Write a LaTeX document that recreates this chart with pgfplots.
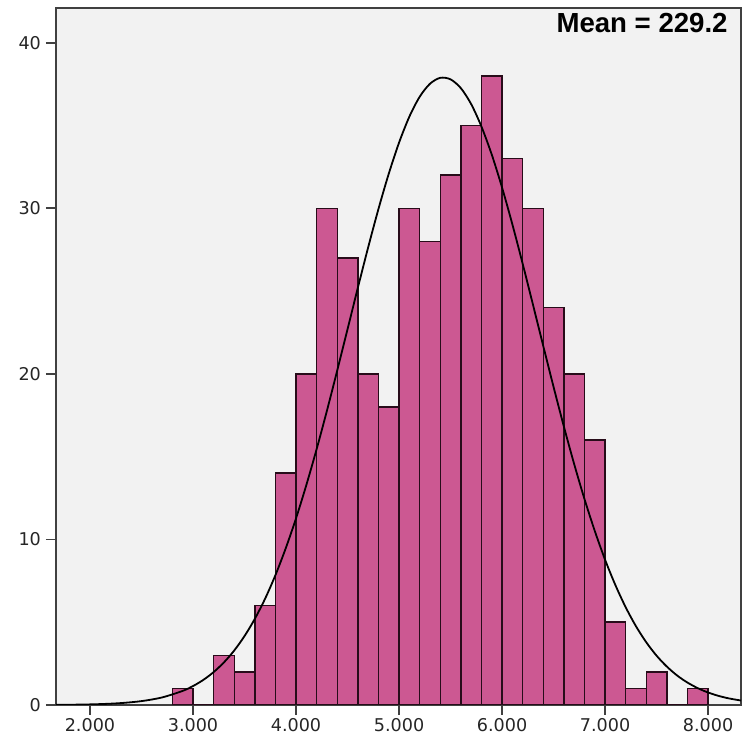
\documentclass[border=0pt]{standalone}
\usepackage{pgfplots}
\pgfplotsset{compat=1.18}
\usepackage{fontspec}
\setmainfont{DejaVu Sans}
\newfontfamily\meanfont{Liberation Sans}
\definecolor{barPink}{RGB}{204,88,146}
\definecolor{barEdge}{RGB}{40,12,26}
\definecolor{plotBg}{RGB}{242,242,242}

\begin{document}
\begin{tikzpicture}
    \begin{axis}[
        name=ax,
        scale only axis,
        width=342.5pt, height=348.5pt,
        xmin=1.67, xmax=8.32,
        ymin=0, ymax=42.1,
        axis background/.style={fill=plotBg},
        axis line style={black!75, line width=1pt},
        xtick={2,3,4,5,6,7,8},
        ytick={0,10,20,30,40},
        tick align=outside,
        major tick length=5pt,
        tick style={black!75, line width=0.9pt},
        xtick pos=bottom, ytick pos=left,
        ticklabel style={font=\fontsize{8.8}{10}\selectfont, text=black!85},
        xticklabel style={yshift=2pt},
        yticklabel style={xshift=1pt},
        /pgf/number format/assume math mode=true,
        x tick label style={/pgf/number format/.cd, fixed, fixed zerofill, precision=3, 1000 sep={}},
        y tick label style={/pgf/number format/.cd, fixed, precision=0},
        clip=true,
    ]
    % histogram, bin width 0.2
    \addplot[ybar interval, fill=barPink, draw=barEdge, line width=0.7pt] coordinates {
        (2.8,1) (3.0,0) (3.2,3) (3.4,2) (3.6,6) (3.8,14) (4.0,20) (4.2,30)
        (4.4,27) (4.6,20) (4.8,18) (5.0,30) (5.2,28) (5.4,32) (5.6,35)
        (5.8,38) (6.0,33) (6.2,30) (6.4,24) (6.6,20) (6.8,16) (7.0,5)
        (7.2,1) (7.4,2) (7.6,0) (7.8,1) (8.0,0)
    };
    % fitted normal curve
    \addplot[black, line width=0.9pt, smooth] coordinates {
        (1.67,0.008) (1.9,0.023) (2.1,0.053) (2.3,0.114) (2.5,0.233) (2.7,0.456)
        (2.9,0.851) (3.0,1.142) (3.1,1.514) (3.2,1.985) (3.3,2.570) (3.4,3.289)
        (3.5,4.161) (3.6,5.200) (3.7,6.42) (3.8,7.84) (3.9,9.46) (4.0,11.27)
        (4.1,13.28) (4.2,15.45) (4.3,17.77) (4.4,20.20) (4.5,22.69) (4.6,25.19)
        (4.7,27.63) (4.8,29.95) (4.9,32.08) (5.0,33.96) (5.1,35.53) (5.2,36.73)
        (5.3,37.52) (5.4,37.88) (5.5,37.79) (5.6,37.26) (5.7,36.30) (5.8,34.94)
        (5.9,33.25) (6.0,31.26) (6.1,29.04) (6.2,26.66) (6.3,24.19) (6.4,21.69)
        (6.5,19.22) (6.6,16.83) (6.7,14.56) (6.8,12.45) (6.9,10.52) (7.0,8.78)
        (7.1,7.25) (7.2,5.91) (7.3,4.76) (7.4,3.79) (7.5,2.98) (7.6,2.32)
        (7.7,1.78) (7.8,1.355) (7.9,1.017) (8.0,0.754) (8.1,0.553) (8.2,0.400)
        (8.32,0.268)
    };
    \node[anchor=base east, inner sep=0pt, font=\meanfont\bfseries\fontsize{13.8}{16}\selectfont]
        at ([xshift=-6.5pt, yshift=-12.3pt]rel axis cs:1,1) {Mean = 229.2};
    \end{axis}
    \pgfresetboundingbox
    \path ([shift={(-28pt,-15.5pt)}]ax.south west) rectangle ([shift={(0.5pt,4pt)}]ax.north east);
\end{tikzpicture}
\end{document}
